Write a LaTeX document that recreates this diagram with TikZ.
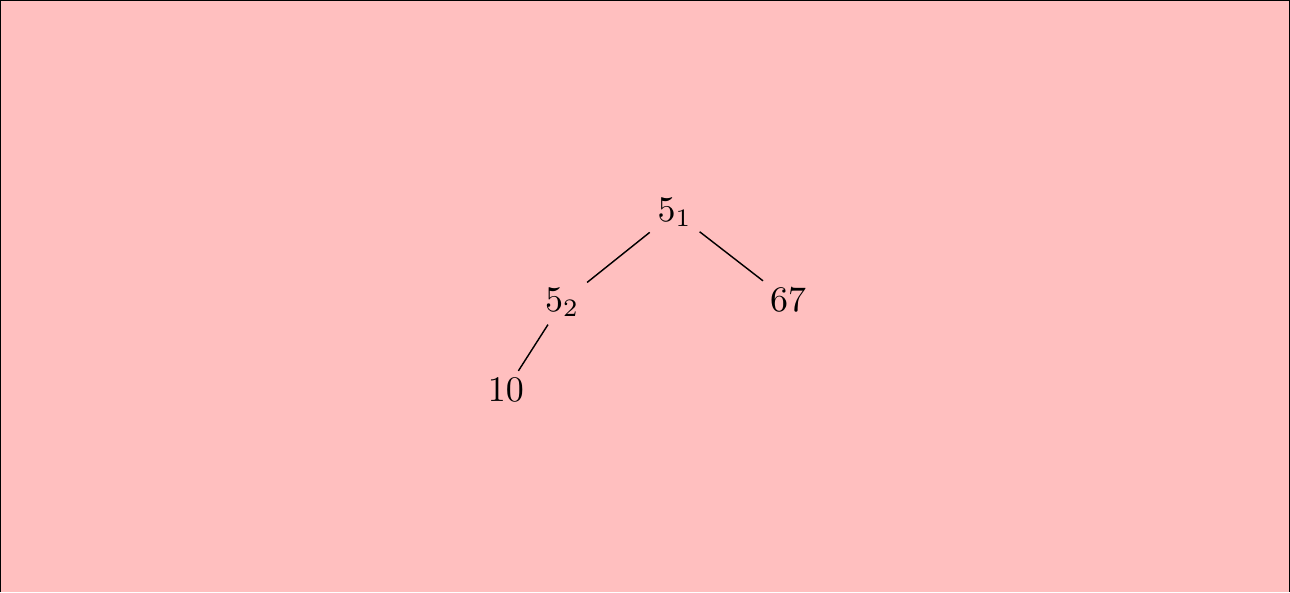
\documentclass[tikz,border=0pt]{standalone}
\usepackage{tikz}
\usetikzlibrary{positioning}
\definecolor{bgpink}{RGB}{255,191,191}

\begin{document}
\begin{tikzpicture}[every node/.style={inner sep=2pt}]
  % background frame
  \fill[bgpink] (0,0) rectangle (12.6,5.78);
  \draw[black] (0,0) -- (0,5.78) -- (12.6,5.78) -- (12.6,0);
  \useasboundingbox (0,0) rectangle (12.6,5.78);
  % tree nodes
  \node (root) at (6.59,3.71) {$5_1$};
  \node (left) at (5.49,2.83) {$5_2$};
  \node (right) at (7.70,2.85) {$67$};
  \node (leaf) at (4.94,1.97) {$10$};
  \draw (root) -- (left);
  \draw (root) -- (right);
  \draw (left) -- (leaf);
\end{tikzpicture}
\end{document}
